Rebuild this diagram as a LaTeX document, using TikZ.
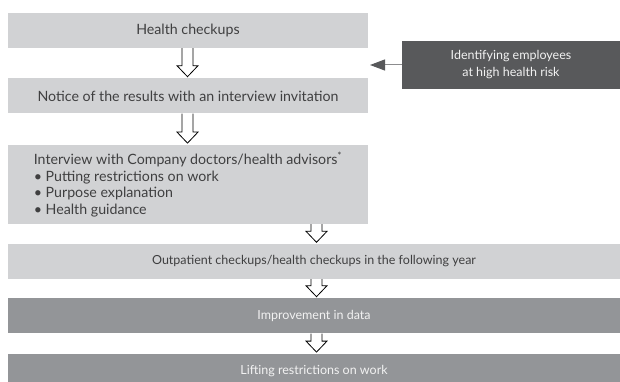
\documentclass[tikz,border=0pt]{standalone}
\usepackage{fontspec}
\setmainfont{Lato}
\usetikzlibrary{arrows.meta,positioning,calc}
\definecolor{lightfill}{HTML}{D1D2D4}
\definecolor{midfill}{HTML}{939598}
\definecolor{darkfill}{HTML}{58595B}
\definecolor{boxtext}{HTML}{3F3F40}
\definecolor{linkgrey}{HTML}{8C8C8E}

% hollow block arrow: from node, to node, x position
\newcommand{\flowarrow}[3]{%
  \draw[hollow] let \p1=(#1.south), \p2=(#2.north) in
    ({#3pt-5.5pt},\y1) -- ({#3pt-5.5pt},\y2+12.5pt) -- ({#3pt-10.5pt},\y2+12.5pt)
    -- (#3pt,\y2+1.5pt) -- ({#3pt+10.5pt},\y2+12.5pt) -- ({#3pt+5.5pt},\y2+12.5pt)
    -- ({#3pt+5.5pt},\y1);}

\begin{document}
\begin{tikzpicture}[x=1pt, y=1pt,
    box/.style={fill=lightfill, text=boxtext, minimum width=360pt, minimum height=35pt,
                inner sep=0pt, font=\fontsize{14.2}{16.5}\selectfont},
    widebox/.style={box, minimum width=612pt, font=\fontsize{12.5}{16}\selectfont},
    greybox/.style={widebox, fill=midfill, text=white!95!black},
    riskbox/.style={fill=darkfill, text=white!95!black, minimum width=218pt, minimum height=48pt,
                    inner sep=0pt, align=center, font=\fontsize{12.5}{17}\selectfont},
    hollow/.style={draw=black, fill=white, line width=0.8pt},
    riskarr/.style={-{Triangle[length=15pt, width=11pt, color=darkfill]}, draw=linkgrey, line width=1pt}
  ]
  \useasboundingbox (0,0) rectangle (620,-382);
  \node[box] (checkups) at (188,-30.5) {Health checkups};
  \node[box, below=30pt of checkups] (notice) {Notice of the results with an interview invitation};
  \node[box, minimum height=79pt, align=left, below=31pt of notice] (interview)
    {Interview with Company doctors/health advisors\textsuperscript{*}\\
     • Putting restrictions on work\\
     • Purpose explanation\\
     • Health guidance};
  \node[widebox] (outpatient) at (314,-261.5) {Outpatient checkups/health checkups in the following year};
  \node[greybox, below=19pt of outpatient] (improve) {Improvement in data};
  \node[greybox, below=20pt of improve] (lifting) {Lifting restrictions on work};

  \node[riskbox] (risk) at (511,-65) {Identifying employees\\at high health risk};
  \coordinate (risktip) at (370,-65);
  \draw[riskarr] (risk.west) -- (risktip);

  \flowarrow{checkups}{notice}{187.5}
  \flowarrow{notice}{interview}{187.5}
  \flowarrow{interview}{outpatient}{316.5}
  \flowarrow{outpatient}{improve}{316.5}
  \flowarrow{improve}{lifting}{316.5}
\end{tikzpicture}
\end{document}
